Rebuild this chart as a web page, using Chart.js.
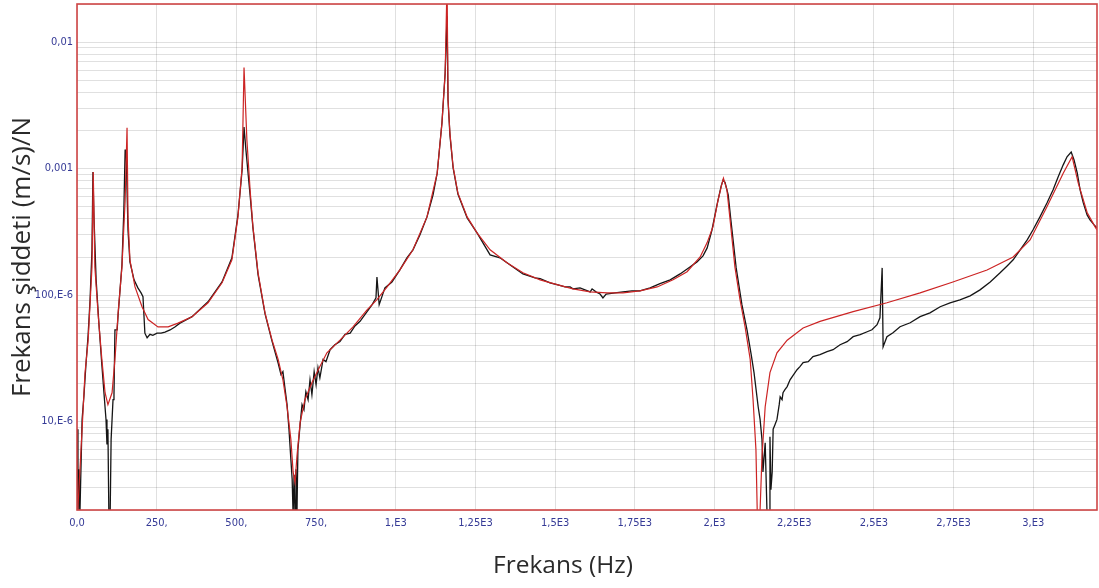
<!DOCTYPE html>
<html>
<head>
<meta charset="utf-8">
<script src="https://cdn.jsdelivr.net/npm/chart.js@4.4.1/dist/chart.umd.min.js"></script>
<style>
  html, body { margin: 0; padding: 0; background: #fff; }
  #wrap { width: 1099px; height: 588px; position: relative; }
</style>
</head>
<body>
<div id="wrap"><canvas id="plot"></canvas></div>
<script>
// fitted curve (red)
const fitFreq = [0, 3, 16, 25, 35, 47, 51, 56, 66, 78, 88, 97, 110, 119, 129, 141, 151, 157, 160, 166,
  182, 204, 223, 254, 286, 317, 361, 411, 455, 486, 505, 518, 524, 533, 543, 552, 568, 590, 612, 631,
  646, 659, 671, 678, 684, 690, 700, 715, 737, 762, 784, 825, 866, 910, 941, 973, 1013, 1054, 1098, 1130,
  1145, 1155, 1161, 1164, 1170, 1180, 1195, 1224, 1255, 1296, 1349, 1399, 1453, 1506, 1556, 1610, 1663, 1713, 1766, 1820,
  1870, 1914, 1955, 1977, 1995, 2011, 2024, 2028, 2039, 2049, 2064, 2080, 2096, 2112, 2121, 2130, 2134, 2139, 2143, 2149,
  2159, 2174, 2196, 2228, 2278, 2331, 2435, 2541, 2645, 2748, 2855, 2937, 2990, 3043, 3094, 3122, 3141, 3169, 3194, 3200];
const fitValue = [1.8e-6, 2.1e-6, 8.7e-6, 2.4e-5, 4.4e-5, 1.67e-4, 9.4e-4, 1.67e-4, 7.2e-5, 3.1e-5, 1.69e-5, 1.36e-5, 1.69e-5, 3.1e-5, 7.2e-5, 1.67e-4, 5.6e-4, 2.1e-3, 4.15e-4, 1.9e-4,
  1.16e-4, 8.1e-5, 6.4e-5, 5.6e-5, 5.6e-5, 6.0e-5, 6.75e-5, 8.7e-5, 1.25e-4, 1.9e-4, 4.15e-4, 1.03e-3, 6.3e-3, 1.68e-3, 6.8e-4, 3.46e-4, 1.5e-4, 7.2e-5, 4.4e-5, 3.1e-5,
  2.14e-5, 1.31e-5, 7.2e-6, 4.0e-6, 3.3e-6, 5.3e-6, 9.8e-6, 1.49e-5, 2.03e-5, 2.72e-5, 3.5e-5, 4.4e-5, 5.6e-5, 7.65e-5, 9.2e-5, 1.16e-4, 1.58e-4, 2.28e-4, 4.15e-4, 9.2e-4,
  2.3e-3, 5.7e-3, 3.0e-2, 3.5e-3, 1.9e-3, 1.03e-3, 6.4e-4, 4.15e-4, 3.1e-4, 2.28e-4, 1.8e-4, 1.5e-4, 1.32e-4, 1.21e-4, 1.12e-4, 1.06e-4, 1.04e-4, 1.04e-4, 1.08e-4, 1.16e-4,
  1.32e-4, 1.53e-4, 2.0e-4, 2.6e-4, 3.46e-4, 5.6e-4, 7.7e-4, 8.4e-4, 6.8e-4, 3.9e-4, 1.67e-4, 9.2e-5, 5.6e-5, 3.1e-5, 1.49e-5, 6.0e-6, 2.0e-6, 5.0e-7, 2.0e-6, 5.3e-6,
  1.31e-5, 2.44e-5, 3.5e-5, 4.4e-5, 5.5e-5, 6.2e-5, 7.4e-5, 8.7e-5, 1.04e-4, 1.27e-4, 1.58e-4, 2.0e-4, 2.73e-4, 5.0e-4, 9.2e-4, 1.24e-3, 7.7e-4, 4.5e-4, 3.46e-4, 3.27e-4];

// measured response (black)
const measFreq = [0, 3, 6, 9, 16, 22, 28, 35, 41, 47, 50, 53, 60, 69, 78, 85, 91, 94, 97, 100,
  104, 107, 110, 113, 116, 119, 126, 129, 135, 141, 147, 151, 154, 157, 160, 166, 179, 191, 201, 207,
  213, 220, 229, 238, 251, 264, 276, 292, 307, 323, 361, 411, 455, 486, 505, 518, 524, 530, 543, 552,
  568, 590, 612, 631, 640, 646, 653, 659, 665, 671, 675, 678, 681, 684, 687, 690, 693, 700, 706, 712,
  718, 725, 731, 737, 744, 750, 756, 762, 772, 781, 794, 809, 825, 841, 857, 872, 888, 910, 926, 938,
  941, 948, 966, 988, 1013, 1035, 1054, 1076, 1098, 1117, 1130, 1145, 1155, 1161, 1164, 1170, 1180, 1195, 1224, 1255,
  1296, 1327, 1359, 1399, 1437, 1453, 1484, 1506, 1531, 1547, 1556, 1578, 1610, 1616, 1628, 1641, 1650, 1660, 1688, 1713,
  1741, 1766, 1798, 1829, 1861, 1892, 1923, 1945, 1964, 1977, 1992, 2008, 2021, 2027, 2033, 2043, 2052, 2068, 2086, 2102,
  2115, 2124, 2137, 2143, 2149, 2152, 2159, 2162, 2165, 2171, 2174, 2177, 2181, 2184, 2190, 2196, 2203, 2206, 2212, 2215,
  2221, 2228, 2237, 2246, 2259, 2268, 2278, 2294, 2309, 2331, 2353, 2372, 2394, 2416, 2435, 2457, 2479, 2494, 2510, 2519,
  2526, 2529, 2535, 2541, 2560, 2582, 2614, 2645, 2676, 2708, 2739, 2770, 2802, 2833, 2865, 2896, 2918, 2937, 2959, 2981,
  2999, 3021, 3043, 3062, 3078, 3094, 3106, 3119, 3128, 3138, 3147, 3157, 3169, 3178, 3191, 3200];
const measValue = [8.7e-6, 1.8e-6, 4.2e-6, 1.8e-6, 1.04e-5, 1.63e-5, 2.8e-5, 4.9e-5, 9.2e-5, 2.28e-4, 9.4e-4, 4.3e-4, 1.32e-4, 5.8e-5, 2.8e-5, 1.63e-5, 1.04e-5, 6.6e-6, 8.7e-6, 1.8e-6,
  1.8e-6, 7.2e-6, 1.04e-5, 1.49e-5, 1.63e-5, 5.3e-5, 5.3e-5, 7.0e-5, 1.1e-4, 1.73e-4, 4.7e-4, 1.4e-3, 1.4e-3, 6.8e-4, 3.27e-4, 1.83e-4, 1.32e-4, 1.14e-4, 1.04e-4, 9.7e-5,
  5.0e-5, 4.6e-5, 4.9e-5, 4.8e-5, 5.0e-5, 5.0e-5, 5.1e-5, 5.3e-5, 5.6e-5, 6.0e-5, 6.75e-5, 8.85e-5, 1.27e-4, 1.97e-4, 4.3e-4, 9.75e-4, 2.13e-3, 1.4e-3, 6.2e-4, 3.4e-4,
  1.45e-4, 7.1e-5, 4.3e-5, 2.9e-5, 2.35e-5, 2.48e-5, 1.79e-5, 1.36e-5, 8.7e-6, 5.0e-6, 3.5e-6, 1.8e-6, 3.8e-6, 1.8e-6, 4.2e-6, 1.8e-6, 6.0e-6, 9.5e-6, 1.36e-5, 1.24e-5,
  1.72e-5, 1.49e-5, 2.14e-5, 1.63e-5, 2.48e-5, 1.96e-5, 2.67e-5, 2.22e-5, 3.1e-5, 2.98e-5, 3.7e-5, 4.05e-5, 4.3e-5, 4.9e-5, 5.0e-5, 5.7e-5, 6.2e-5, 7.4e-5, 8.4e-5, 9.5e-5,
  1.39e-4, 8.4e-5, 1.14e-4, 1.27e-4, 1.58e-4, 1.97e-4, 2.28e-4, 3.0e-4, 4.15e-4, 6.2e-4, 9.2e-4, 2.3e-3, 5.7e-3, 1.6e-2, 3.5e-3, 1.84e-3, 1.01e-3, 6.3e-4, 4.07e-4, 3.1e-4,
  2.08e-4, 1.97e-4, 1.73e-4, 1.47e-4, 1.37e-4, 1.35e-4, 1.25e-4, 1.21e-4, 1.16e-4, 1.16e-4, 1.12e-4, 1.14e-4, 1.06e-4, 1.12e-4, 1.06e-4, 1.02e-4, 9.5e-5, 1.02e-4, 1.04e-4, 1.06e-4,
  1.08e-4, 1.08e-4, 1.14e-4, 1.23e-4, 1.32e-4, 1.47e-4, 1.67e-4, 1.83e-4, 2.04e-4, 2.36e-4, 3.27e-4, 5.2e-4, 7.3e-4, 8.1e-4, 7.8e-4, 6.2e-4, 3.8e-4, 1.64e-4, 8.4e-5, 5.3e-5,
  3.4e-5, 2.44e-5, 1.31e-5, 1.04e-5, 7.2e-6, 4.0e-6, 6.8e-6, 3.5e-6, 1.8e-6, 1.8e-6, 7.6e-6, 2.9e-6, 4.0e-6, 8.7e-6, 9.5e-6, 1.04e-5, 1.36e-5, 1.57e-5, 1.49e-5, 1.69e-5,
  1.79e-5, 1.89e-5, 2.14e-5, 2.31e-5, 2.57e-5, 2.72e-5, 2.92e-5, 2.98e-5, 3.26e-5, 3.38e-5, 3.57e-5, 3.7e-5, 4.05e-5, 4.28e-5, 4.69e-5, 4.86e-5, 5.13e-5, 5.32e-5, 5.83e-5, 6.62e-5,
  1.64e-4, 3.9e-5, 4.28e-5, 4.69e-5, 5.04e-5, 5.62e-5, 6.04e-5, 6.75e-5, 7.24e-5, 8.09e-5, 8.69e-5, 9.18e-5, 9.87e-5, 1.1e-4, 1.27e-4, 1.5e-4, 1.7e-4, 1.9e-4, 2.28e-4, 2.73e-4,
  3.27e-4, 4.15e-4, 5.35e-4, 6.78e-4, 8.59e-4, 1.07e-3, 1.24e-3, 1.35e-3, 1.17e-3, 9.23e-4, 6.78e-4, 5.35e-4, 4.3e-4, 3.93e-4, 3.59e-4, 3.4e-4];

// axis ticks and labels
const xTickValues = [0, 250, 500, 750, 1000, 1250, 1500, 1750, 2000, 2250, 2500, 2750, 3000];
const xTickLabels = ['0,0', '250,', '500,', '750,', '1,E3', '1,25E3', '1,5E3', '1,75E3', '2,E3', '2,25E3', '2,5E3', '2,75E3', '3,E3'];
const yDecades = [1e-6, 1e-5, 1e-4, 1e-3, 1e-2];
const yMultipliers = [1, 2, 3, 4, 5, 6, 7, 8, 9];
const yLabelValues = [1e-5, 1e-4, 1e-3, 1e-2];
const yLabelTexts = ['10,E-6', '100,E-6', '0,001', '0,01'];

const xMin = 0, xMax = 3200;
const yMin = 2e-6, yMax = 2e-2;

const yTickValues = [];
yDecades.forEach(d => yMultipliers.forEach(m => {
  const v = m * d;
  if (v >= yMin * 0.999 && v <= yMax * 1.001) yTickValues.push(v);
}));

function toPoints(xs, ys) {
  return xs.map((x, i) => ({ x: x, y: ys[i] }));
}

const tickFont = { family: "'Liberation Sans Narrow', 'DejaVu Sans Condensed', 'Liberation Sans', sans-serif", size: 11 };
const tickColor = '#353a96';
const gridColor = 'rgba(0,0,0,0.12)';
const titleFamily = "'Open Sans', 'Noto Sans', sans-serif";

const framePlugin = {
  id: 'frame',
  afterDatasetsDraw(chart) {
    const { ctx, chartArea: a } = chart;
    ctx.save();
    ctx.strokeStyle = '#cf4545';
    ctx.lineWidth = 1.6;
    ctx.strokeRect(a.left, a.top, a.right - a.left, a.bottom - a.top);
    ctx.restore();
  },
  afterDraw(chart) {
    const { ctx } = chart;
    ctx.save();
    ctx.fillStyle = '#2a2a2a';
    ctx.font = '24.5px ' + titleFamily;
    ctx.textAlign = 'center';
    ctx.textBaseline = 'middle';
    ctx.fillText('Frekans (Hz)', 563, 566);
    ctx.restore();
  }
};

const config = {
  type: 'line',
  data: {
    datasets: [
      {
        label: 'fit',
        data: toPoints(fitFreq, fitValue),
        borderColor: '#cc2424',
        borderWidth: 1.2,
        pointRadius: 0,
        tension: 0
      },
      {
        label: 'measured',
        data: toPoints(measFreq, measValue),
        borderColor: '#151515',
        borderWidth: 1.3,
        pointRadius: 0,
        tension: 0
      }
    ]
  },
  options: {
    responsive: true,
    maintainAspectRatio: false,
    animation: false,
    layout: { padding: { left: 0, right: 2, top: 4, bottom: 0 } },
    plugins: {
      legend: { display: false },
      tooltip: { enabled: false }
    },
    scales: {
      x: {
        type: 'linear',
        min: xMin,
        max: xMax,
        afterFit: s => { s.height = 78; s.paddingLeft = 0; s.paddingRight = 0; },
        afterBuildTicks: s => { s.ticks = xTickValues.map(v => ({ value: v })); },
        grid: { color: gridColor, drawTicks: false },
        border: { display: false },
        ticks: {
          autoSkip: false,
          maxRotation: 0,
          padding: 7,
          color: tickColor,
          font: tickFont,
          callback: v => {
            const i = xTickValues.indexOf(v);
            return i >= 0 ? xTickLabels[i] : '';
          }
        }
      },
      y: {
        type: 'logarithmic',
        min: yMin,
        max: yMax,
        afterFit: s => { s.width = 77; s.paddingTop = 0; s.paddingBottom = 0; },
        afterBuildTicks: s => { s.ticks = yTickValues.map(v => ({ value: v })); },
        grid: { color: gridColor, drawTicks: false },
        border: { display: false },
        title: {
          display: true,
          text: 'Frekans şiddeti (m/s)/N',
          color: '#2a2a2a',
          font: { family: titleFamily, size: 26 },
          padding: { top: 7, bottom: 0 }
        },
        ticks: {
          autoSkip: false,
          padding: 4,
          color: tickColor,
          font: tickFont,
          callback: v => {
            const i = yLabelValues.findIndex(t => Math.abs(Math.log10(t) - Math.log10(v)) < 1e-6);
            return i >= 0 ? yLabelTexts[i] : '';
          }
        }
      }
    }
  },
  plugins: [framePlugin]
};

const canvas = document.getElementById('plot');
const myChart = new Chart(canvas, config);
</script>
</body>
</html>
